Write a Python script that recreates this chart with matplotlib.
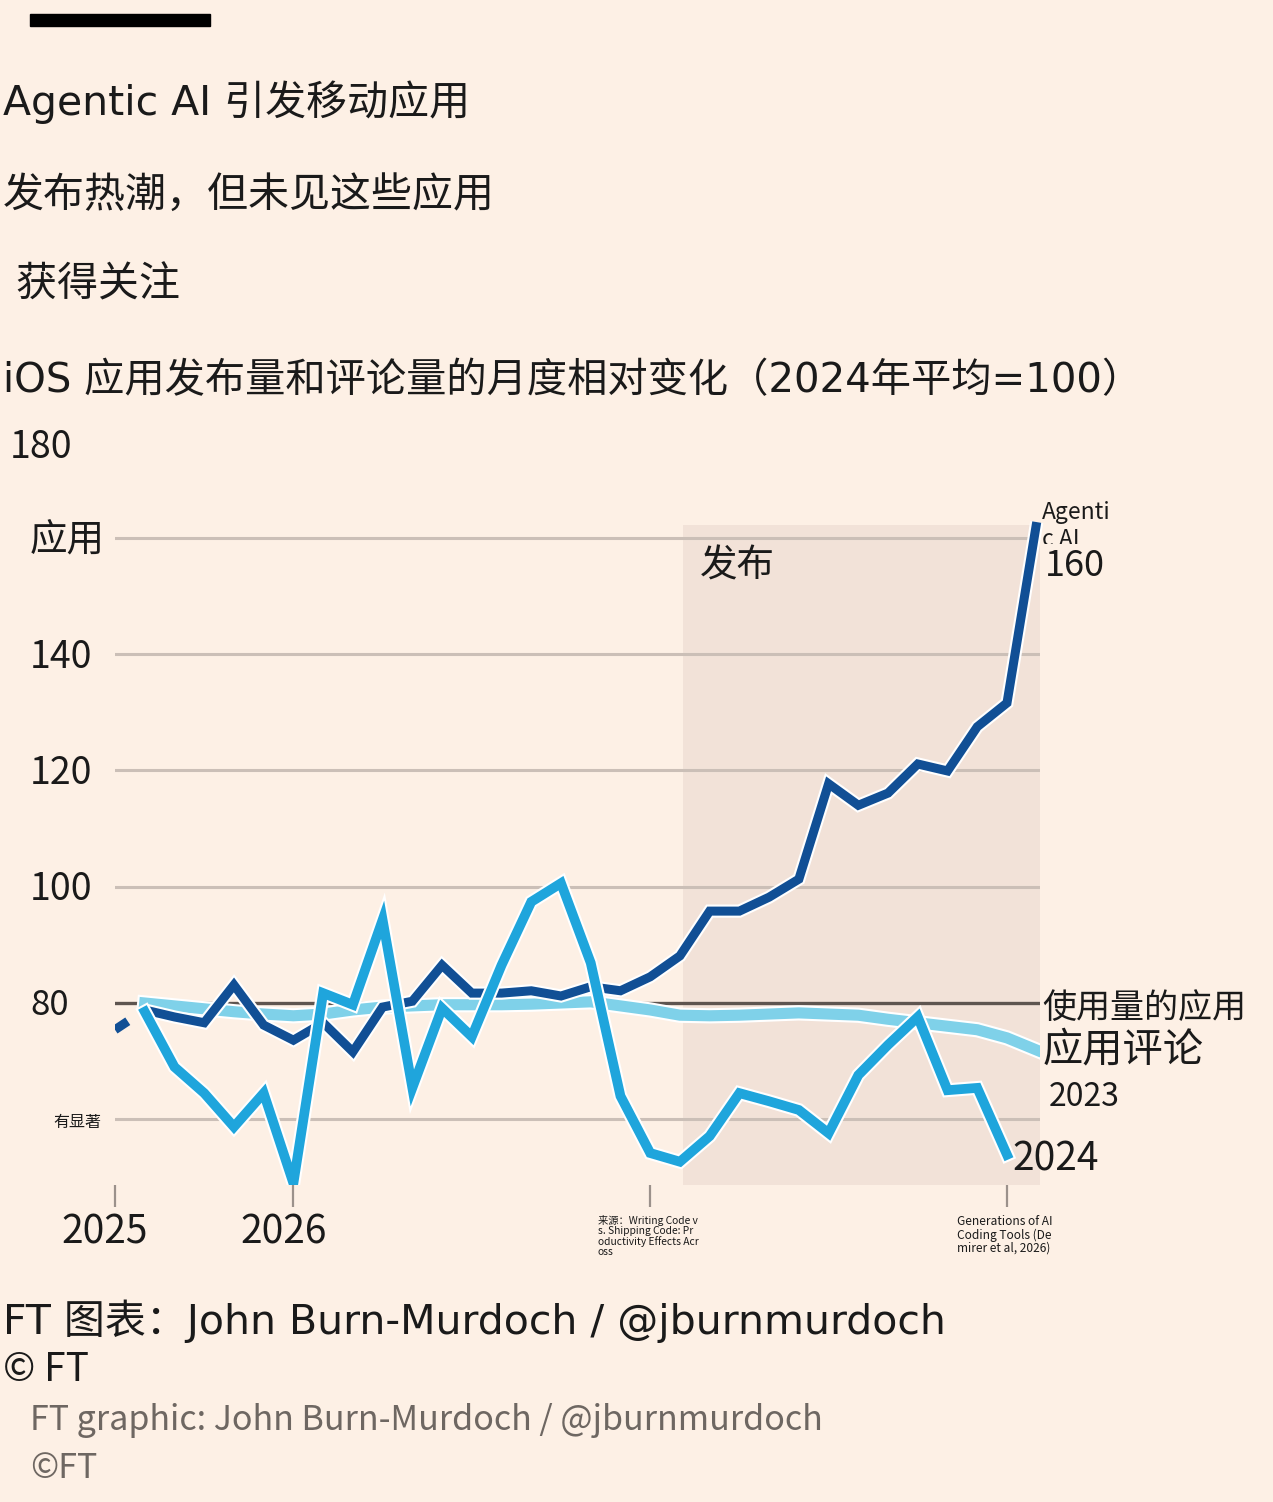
import numpy as np
import matplotlib
matplotlib.use("Agg")
import matplotlib.pyplot as plt
import matplotlib.patheffects as pe
from matplotlib.patches import Rectangle
from matplotlib import transforms

plt.rcParams["font.family"] = ["Noto Sans CJK SC", "DejaVu Sans"]
TITLE_FONT = ["DejaVu Sans", "Noto Sans CJK SC"]

BG = "#fdf0e5"
SHADE = "#f2e2d8"
DARK_BLUE = "#114f95"
MID_BLUE = "#1fa5dc"
LIGHT_BLUE = "#7fd1e9"
GRID = "#cbbfb7"
BASE = "#5e5550"
INK = "#1a1a1a"

nan = np.nan

# monthly index, relative change (2024 avg = 100)
months = list(range(32))
agentic = [75.4, 78.8, 77.6, 76.6, 83.1, 76.2, 73.6, 76.6, 71.6, 79.3,
           80.3, 86.5, 81.7, 81.7, 82.1, 81.2, 82.8, 82.1, 84.5, 88.1,
           95.8, 95.8, 98.2, 101.3, 117.7, 114.0, 116.1, 121.1, 119.9, 127.5,
           131.6, 162.7]
reviews_2024 = [nan, 78.5, 69.0, 64.5, 58.7, 64.5, 49.0, 81.7, 79.7, 94.3,
                65.4, 79.1, 74.2, 86.5, 97.4, 100.6, 86.9, 64.0, 54.2, 52.7,
                57.1, 64.5, 63.1, 61.6, 57.6, 67.6, 72.8, 77.6, 65.0, 65.4,
                53.9, nan]
reviews_2023 = [nan, 80.0, 79.5, 79.0, 78.5, 78.1, 77.8, 78.1, 78.8, 79.3,
                79.5, 79.7, 79.7, 79.7, 79.8, 80.0, 80.2, 79.5, 78.8, 77.9,
                77.8, 77.9, 78.1, 78.3, 78.1, 77.9, 77.2, 76.6, 76.0, 75.4,
                74.0, 71.9]

grid_values = [60, 100, 120, 140, 160]
base_value = 80
y_labels = ["有显著", "80", "100", "120", "140", "应用"]
y_label_values = [60, 80, 100, 120, 140, 160]
y_label_sizes = [11.5, 25, 27, 27, 27, 27]

x_ticks = [0, 6, 18, 30]
x_labels = ["2025", "2026",
            "来源：Writing Code v\ns. Shipping Code: Pr\noductivity Effects Acr\noss",
            "Generations of AI\nCoding Tools (De\nmirer et al, 2026)"]
x_label_sizes = [28, 28, 7.4, 8.6]

SHADE_START = 19.1

W, H = 1273, 1502
fig = plt.figure(figsize=(W / 100, H / 100), dpi=100, facecolor=BG)
ax = fig.add_axes([115 / W, 1 - 1185 / H, (1040 - 115) / W, (1185 - 525) / H])
ax.set_facecolor("none")
ax.set_xlim(0, 31.11)
ax.set_ylim(48.7, 162.2)
for s in ax.spines.values():
    s.set_visible(False)

ax.axvspan(SHADE_START, 31.11, color=SHADE, zorder=0, lw=0)
for v in grid_values:
    ax.axhline(v, color=GRID, lw=2.2, zorder=1)
ax.axhline(base_value, color=BASE, lw=2.4, zorder=1)


def outline(lw):
    return [pe.Stroke(linewidth=lw + 3, foreground="white"), pe.Normal()]


ax.plot(months, reviews_2023, color=LIGHT_BLUE, lw=8, zorder=2,
        solid_joinstyle="miter", path_effects=outline(8))
ax.plot(months[:2], agentic[:2], color=DARK_BLUE, lw=6.5, zorder=3,
        dashes=(1.7, 10))
ax.plot(months[1:], agentic[1:], color=DARK_BLUE, lw=6.5, zorder=3,
        solid_joinstyle="miter", solid_capstyle="butt",
        path_effects=outline(6.5), clip_on=False)
ax.plot(months, reviews_2024, color=MID_BLUE, lw=7, zorder=4,
        solid_joinstyle="miter", path_effects=outline(7))

# x axis
ax.set_yticks([])
ax.set_xticks(x_ticks)
ax.set_xticklabels([])
ax.tick_params(axis="x", length=16, width=1.6, color="#9b918b")
xtr = ax.get_xaxis_transform()
px = 1 / 29.73
for x, text, fs in zip(x_ticks, x_labels, x_label_sizes):
    if fs > 20:
        ax.text(x - 10 * px, -0.072, text, transform=xtr, fontsize=fs,
                ha="center", va="center", color=INK)
    else:
        ax.text(x - 2 * px, -0.046, text, transform=xtr, fontsize=fs,
                ha="center", va="top", multialignment="left",
                linespacing=1.0, color=INK)

# y labels
ytr = transforms.blended_transform_factory(fig.transFigure, ax.transData)
for text, v, fs in zip(y_labels, y_label_values, y_label_sizes):
    x = 30 if fs > 20 else 53
    ax.text(x / W, v - 0.5, text, transform=ytr, fontsize=fs, va="center",
            ha="left", color=INK)
ax.text(10 / W, 175.6, "180", transform=ytr, fontsize=27, va="center",
        ha="left", color=INK, clip_on=False)

# annotations
ax.text(19.68, 155.2, "发布", fontsize=27, va="center", color=INK)
ax.text(31.18, 162.0, "Agenti\nc AI", fontsize=16.5, va="center",
        color=INK, linespacing=1.25, clip_on=False, zorder=5)
ax.text(31.28, 155.2, "160", fontsize=26, va="center", color=INK,
        clip_on=False, zorder=6,
        bbox=dict(facecolor=BG, edgecolor="none", pad=2.5))
ax.text(31.18, 79.0, "使用量的应用", fontsize=24.5, va="center",
        color=INK, clip_on=False)
ax.text(31.18, 71.9, "应用评论", fontsize=29, va="center",
        color=INK, clip_on=False)
ax.text(31.4, 63.8, "2023", fontsize=23, va="center", color=INK,
        clip_on=False)
ax.text(30.17, 53.0, "2024", fontsize=28, va="center", color=INK,
        clip_on=False, zorder=6)

# titles
fig.patches.append(Rectangle((30 / W, 1 - 26 / H), 180 / W, 12 / H,
                             transform=fig.transFigure, color="black"))
title_lines = [("Agentic AI 引发移动应用", 102), ("发布热潮，但未见这些应用", 196),
               (" 获得关注", 285)]
for text, y in title_lines:
    fig.text(3 / W, 1 - y / H, text, fontsize=29.5, va="center",
             color=INK, family=TITLE_FONT)
fig.text(3 / W, 1 - 381 / H, "iOS 应用发布量和评论量的月度相对变化（2024年平均=100）",
         fontsize=29, va="center", color=INK, family=TITLE_FONT)

# footer
fig.text(3 / W, 1 - 1321 / H, "FT 图表：John Burn-Murdoch / @jburnmurdoch",
         fontsize=29.5, va="center", color=INK, family=TITLE_FONT)
fig.text(3 / W, 1 - 1370 / H, "© FT", fontsize=28, va="center",
         color=INK)
fig.text(30 / W, 1 - 1420 / H, "FT graphic: John Burn-Murdoch / @jburnmurdoch",
         fontsize=24.5, va="center", color="#6e6762")
fig.text(30 / W, 1 - 1468 / H, "©FT", fontsize=24.5, va="center",
         color="#6e6762", style="italic")

fig.savefig("out.png", dpi=100, facecolor=BG)
